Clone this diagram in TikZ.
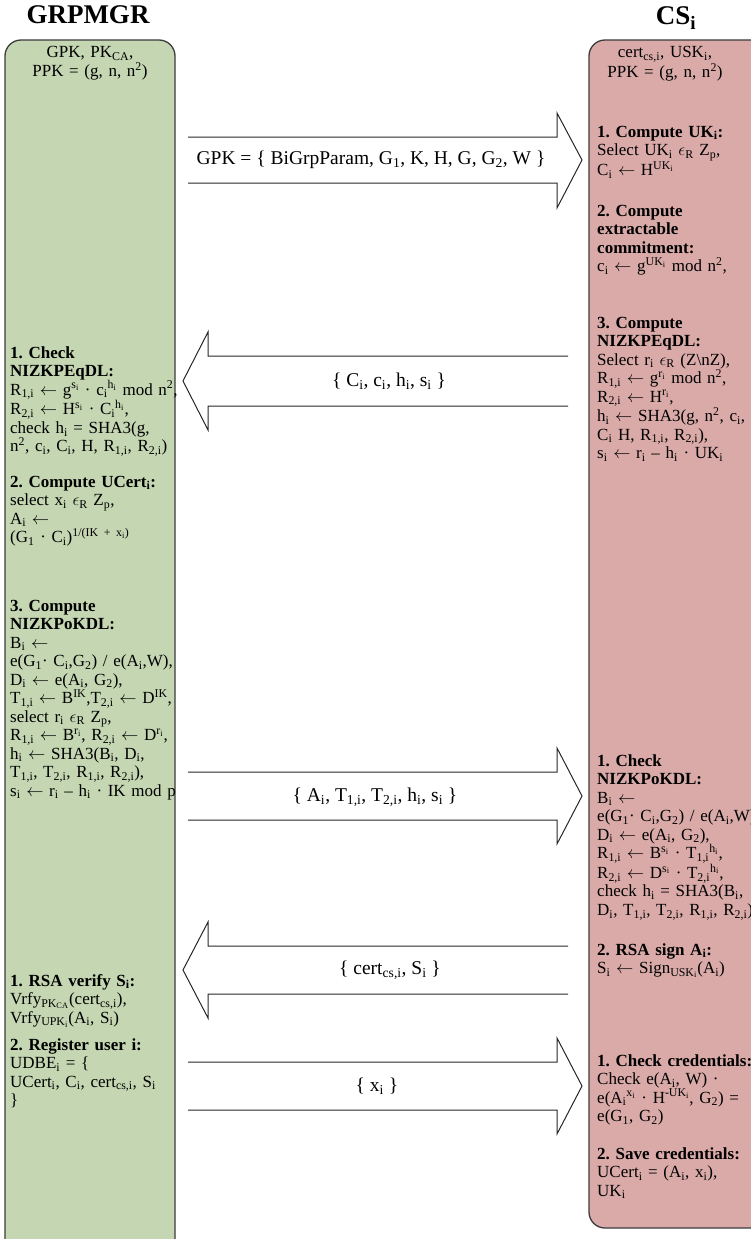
\documentclass[tikz,border=0pt]{standalone}
\usepackage{fontspec}
\setmainfont{Liberation Serif}
\newcommand\lowr[1]{\textsubscript{#1}}
\newcommand\uppr[1]{\textsuperscript{#1}}
\newcommand\inR{$\epsilon$\lowr{R}}
\newcommand\getsarr{$\leftarrow$}
\definecolor{mgrfill}{RGB}{197,214,178}
\definecolor{csfill}{RGB}{217,170,168}
\definecolor{laneedge}{RGB}{60,60,60}
\begin{document}
\frenchspacing
\begin{tikzpicture}[x=1pt,y=-1pt,
  lane/.style={draw=laneedge, line width=1.3pt, rounded corners=16pt},
  msg/.style={draw=black!85, line width=1pt, line join=miter},
  txt/.style={font=\fontsize{17}{18.5}\selectfont\frenchspacing, inner sep=0pt},
  stepblk/.style={txt, anchor=base west, align=left, text width=200pt},
  hdr/.style={txt, anchor=base, align=center, text width=160pt},
  ttl/.style={font=\fontsize{27}{30}\selectfont\bfseries, inner sep=0pt, anchor=base},
  lbl/.style={font=\fontsize{19.5}{21}\selectfont, inner sep=0pt, anchor=center}]
\clip (0,0) rectangle (751,1239);

% lanes
\path[lane, fill=mgrfill] (5,40) rectangle (175,1262);
\path[lane, fill=csfill] (589,40) rectangle (790,1228);

% titles
\node[ttl] (mgr) at (88,24) {GRPMGR};
\node[ttl] (cs) at (676,25) {CS\lowr{i}};

% GRPMGR lane
\node[hdr] (mgrkeys) at (90,58) {GPK, PK\lowr{CA},\\PPK = (g, n, n\uppr{2})};
\node[stepblk] (m1) at (10,358) {\textbf{1. Check}\\\textbf{NIZKPEqDL:}\\
  R\lowr{1,i} \getsarr\ g\uppr{s\lowr{i}} · c\lowr{i}\uppr{h\lowr{i}} mod n\uppr{2},\\
  R\lowr{2,i} \getsarr\ H\uppr{s\lowr{i}} · C\lowr{i}\uppr{h\lowr{i}},\\
  check h\lowr{i} = SHA3(g,\\
  n\uppr{2}, c\lowr{i}, C\lowr{i}, H, R\lowr{1,i}, R\lowr{2,i})};
\node[stepblk] (m2) at (10,487) {\textbf{2. Compute UCert\lowr{i}:}\\
  select x\lowr{i} \inR\ Z\lowr{p},\\
  A\lowr{i} \getsarr\\
  (G\lowr{1} · C\lowr{i})\uppr{1/(IK + x\lowr{i})}};
\node[stepblk] (m3) at (10,611) {\textbf{3. Compute}\\\textbf{NIZKPoKDL:}\\
  B\lowr{i} \getsarr\\
  e(G\lowr{1}· C\lowr{i},G\lowr{2}) / e(A\lowr{i},W),\\
  D\lowr{i} \getsarr\ e(A\lowr{i}, G\lowr{2}),\\
  T\lowr{1,i} \getsarr\ B\uppr{IK},T\lowr{2,i} \getsarr\ D\uppr{IK},\\
  select r\lowr{i} \inR\ Z\lowr{p},\\
  R\lowr{1,i} \getsarr\ B\uppr{r\lowr{i}}, R\lowr{2,i} \getsarr\ D\uppr{r\lowr{i}},\\
  h\lowr{i} \getsarr\ SHA3(B\lowr{i}, D\lowr{i},\\
  T\lowr{1,i}, T\lowr{2,i}, R\lowr{1,i}, R\lowr{2,i}),\\
  s\lowr{i} \getsarr\ r\lowr{i} – h\lowr{i} · IK mod p};
\node[stepblk] (m4) at (10,986) {\textbf{1. RSA verify S\lowr{i}:}\\
  Vrfy\lowr{PK\lowr{CA}}(cert\lowr{cs,i}),\\
  Vrfy\lowr{UPK\lowr{i}}(A\lowr{i}, S\lowr{i})};
\node[stepblk] (m5) at (10,1050) {\textbf{2. Register user i:}\\
  UDBE\lowr{i} = \{\\
  UCert\lowr{i}, C\lowr{i}, cert\lowr{cs,i}, S\lowr{i}\\
  \}};

% CS lane
\node[hdr] (cskeys) at (665,58) {cert\lowr{cs,i}, USK\lowr{i},\\PPK = (g, n, n\uppr{2})};
\node[stepblk] (c1) at (597,137) {\textbf{1. Compute UK\lowr{i}:}\\
  Select UK\lowr{i} \inR\ Z\lowr{p},\\
  C\lowr{i} \getsarr\ H\uppr{UK\lowr{i}}};
\node[stepblk] (c2) at (597,216) {\textbf{2. Compute}\\\textbf{extractable}\\\textbf{commitment:}\\
  c\lowr{i} \getsarr\ g\uppr{UK\lowr{i}} mod n\uppr{2},};
\node[stepblk] (c3) at (597,328) {\textbf{3. Compute}\\\textbf{NIZKPEqDL:}\\
  Select r\lowr{i} \inR\ (Z\textbackslash nZ),\\
  R\lowr{1,i} \getsarr\ g\uppr{r\lowr{i}} mod n\uppr{2},\\
  R\lowr{2,i} \getsarr\ H\uppr{r\lowr{i}},\\
  h\lowr{i} \getsarr\ SHA3(g, n\uppr{2}, c\lowr{i},\\
  C\lowr{i} H, R\lowr{1,i}, R\lowr{2,i}),\\
  s\lowr{i} \getsarr\ r\lowr{i} – h\lowr{i} · UK\lowr{i}};
\node[stepblk] (c4) at (597,766) {\textbf{1. Check}\\\textbf{NIZKPoKDL:}\\
  B\lowr{i} \getsarr\\
  e(G\lowr{1}· C\lowr{i},G\lowr{2}) / e(A\lowr{i},W),\\
  D\lowr{i} \getsarr\ e(A\lowr{i}, G\lowr{2}),\\
  R\lowr{1,i} \getsarr\ B\uppr{s\lowr{i}} · T\lowr{1,i}\uppr{h\lowr{i}},\\
  R\lowr{2,i} \getsarr\ D\uppr{s\lowr{i}} · T\lowr{2,i}\uppr{h\lowr{i}},\\
  check h\lowr{i} = SHA3(B\lowr{i},\\
  D\lowr{i}, T\lowr{1,i}, T\lowr{2,i}, R\lowr{1,i}, R\lowr{2,i})};
\node[stepblk] (c5) at (597,955) {\textbf{2. RSA sign A\lowr{i}:}\\
  S\lowr{i} \getsarr\ Sign\lowr{USK\lowr{i}}(A\lowr{i})};
\node[stepblk] (c6) at (597,1066) {\textbf{1. Check credentials:}\\
  Check e(A\lowr{i}, W) ·\\
  e(A\lowr{i}\uppr{x\lowr{i}} · H\uppr{\textbf{-}UK\lowr{i}}, G\lowr{2}) =\\
  e(G\lowr{1}, G\lowr{2})};
\node[stepblk] (c7) at (597,1159) {\textbf{2. Save credentials:}\\
  UCert\lowr{i} = (A\lowr{i}, x\lowr{i}),\\
  UK\lowr{i}};

% message arrows (open at the tail end)
\draw[msg] (188,137) -- (557,137) -- (557,113) -- (582,160) -- (557,208) -- (557,183) -- (188,183);
\node[lbl] (msg1) at (371,160) {GPK = \{ BiGrpParam, G\lowr{1}, K, H, G, G\lowr{2}, W \}};

\draw[msg] (568,356) -- (208,356) -- (208,332) -- (183,381) -- (208,430) -- (208,406) -- (568,406);
\node[lbl] (msg2) at (389,381) {\{ C\lowr{i}, c\lowr{i}, h\lowr{i}, s\lowr{i} \}};

\draw[msg] (188,772) -- (557,772) -- (557,748) -- (582,796) -- (557,844) -- (557,820) -- (188,820);
\node[lbl] (msg3) at (375,797) {\{ A\lowr{i}, T\lowr{1,i}, T\lowr{2,i}, h\lowr{i}, s\lowr{i} \}};

\draw[msg] (568,946) -- (208,946) -- (208,922) -- (183,970) -- (208,1018) -- (208,994) -- (568,994);
\node[lbl] (msg4) at (390,970) {\{ cert\lowr{cs,i}, S\lowr{i} \}};

\draw[msg] (188,1062) -- (557,1062) -- (557,1038) -- (582,1086) -- (557,1134) -- (557,1110) -- (188,1110);
\node[lbl] (msg5) at (377,1086) {\{ x\lowr{i} \}};
\end{tikzpicture}
\end{document}
